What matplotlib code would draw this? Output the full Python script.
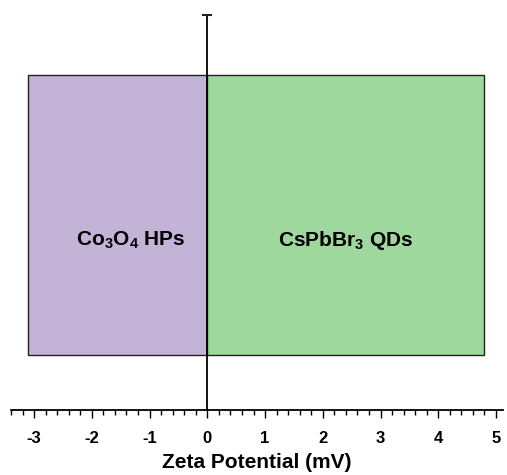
import matplotlib
matplotlib.use("Agg")
import matplotlib.pyplot as plt
from matplotlib.ticker import MultipleLocator

plt.rcParams['font.family'] = ['Liberation Sans', 'DejaVu Sans']
plt.rcParams['mathtext.fontset'] = 'custom'
plt.rcParams['mathtext.rm'] = 'Liberation Sans:bold'
plt.rcParams['mathtext.bf'] = 'Liberation Sans:bold'
plt.rcParams['mathtext.default'] = 'rm'

labels = ["Co$_\\mathrm{3}$O$_\\mathrm{4}$ HPs", "CsPbBr$_\\mathrm{3}$ QDs"]
starts = [-3.1, 0.0]
ends = [0.0, 4.8]
colors = ["#C3B3D6", "#9ED89C"]
label_x = [-1.33, 2.39]
xticks = [-3, -2, -1, 0, 1, 2, 3, 4, 5]

fig = plt.figure(figsize=(5.07, 4.75), dpi=100)
ax = fig.add_axes([0.0217, 0.137, 0.9703, 0.831])

for s, e, c, lab, lx in zip(starts, ends, colors, labels, label_x):
    ax.barh(0.494, e - s, left=s, height=0.709, color=c, edgecolor="#222222", linewidth=1.0, zorder=1)
    ax.text(lx, 0.43, lab, ha="center", va="center", fontsize=15, fontweight="bold")

ax.set_xlim(-3.4, 5.12)
ax.set_ylim(0, 1)
ax.spines['left'].set_position(('data', 0))
ax.spines['right'].set_visible(False)
ax.spines['top'].set_visible(False)
ax.spines['left'].set_linewidth(1.3)
ax.spines['bottom'].set_linewidth(1.3)
ax.spines['left'].set_zorder(3)
ax.set_yticks([])
ax.plot([0], [1], marker="_", color="#222222", markersize=7, mew=1.5, clip_on=False, zorder=4)

ax.set_xticks(xticks)
ax.set_xticklabels([str(t) for t in xticks], fontsize=12, fontweight="bold")
ax.xaxis.set_minor_locator(MultipleLocator(0.2))
ax.tick_params(axis='x', which='major', length=6, width=1.0, pad=9)
ax.tick_params(axis='x', which='minor', length=3.5, width=1.0)
ax.set_xlabel("Zeta Potential (mV)", fontsize=15, fontweight="bold", labelpad=5)

fig.savefig("out.png", dpi=100)
